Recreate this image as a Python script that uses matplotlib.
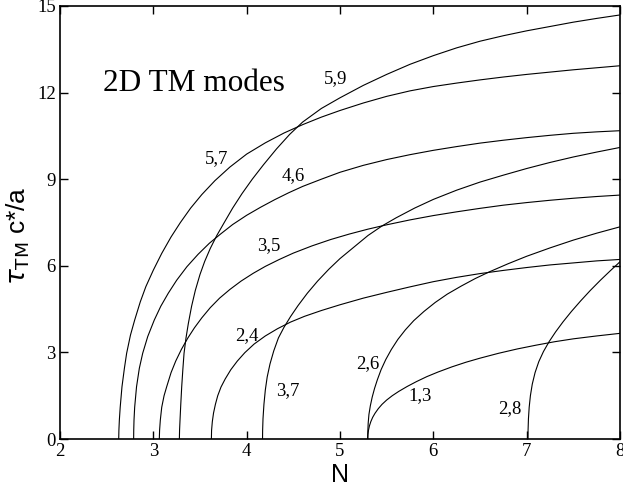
import matplotlib
matplotlib.use("Agg")
import matplotlib.pyplot as plt

# ---- data (N, tau_TM c*/a) ----
n_57 = [2.629, 2.631, 2.636, 2.645, 2.664, 2.69, 2.714, 2.755, 2.80, 2.86, 2.92, 3.0, 3.09, 3.19, 3.29,
        3.40, 3.52, 3.66, 3.82, 4.0, 4.2, 4.4, 4.6, 4.8, 5.0, 5.25, 5.5, 5.75, 6.0, 6.25, 6.5, 6.75,
        7.0, 7.25, 7.5, 7.75, 8.0]
t_57 = [0, 0.3, 0.66, 1.1, 1.81, 2.45, 2.97, 3.6, 4.12, 4.75, 5.28, 5.85, 6.43, 7.0, 7.5,
        8.0, 8.47, 8.95, 9.42, 9.87, 10.26, 10.6, 10.89, 11.15, 11.38, 11.64, 11.87, 12.06, 12.21, 12.33,
        12.44, 12.54, 12.63, 12.71, 12.79, 12.86, 12.93]

n_59 = [3.279, 3.281, 3.286, 3.294, 3.304, 3.316, 3.329, 3.35, 3.375, 3.41, 3.45, 3.50, 3.55, 3.61,
        3.68, 3.76, 3.85, 3.95, 4.06, 4.18, 4.32, 4.46, 4.6, 4.8, 5.0, 5.25, 5.5, 5.75, 6.0, 6.25,
        6.5, 6.75, 7.0, 7.25, 7.5, 7.75, 8.0]
t_59 = [0, 0.3, 0.66, 1.2, 1.81, 2.4, 2.97, 3.5, 4.0, 4.6, 5.15, 5.7, 6.15, 6.6,
        7.05, 7.5, 8.0, 8.5, 9.0, 9.5, 10.05, 10.55, 10.98, 11.45, 11.82, 12.25, 12.63, 12.98, 13.28, 13.55,
        13.78, 13.97, 14.14, 14.29, 14.44, 14.57, 14.69]

n_46 = [2.789, 2.790, 2.793, 2.80, 2.82, 2.85, 2.886, 2.94, 3.01, 3.08, 3.16, 3.25, 3.36, 3.48, 3.6,
        3.72, 3.85, 4.0, 4.15, 4.3, 4.45, 4.6, 4.8, 5.0, 5.25, 5.5, 5.75, 6.0, 6.25, 6.5, 6.75, 7.0,
        7.25, 7.5, 7.75, 8.0]
t_46 = [0, 0.3, 0.66, 1.1, 1.81, 2.45, 2.97, 3.55, 4.12, 4.6, 5.05, 5.5, 5.97, 6.4, 6.78,
        7.1, 7.43, 7.75, 8.03, 8.29, 8.53, 8.75, 9.0, 9.24, 9.48, 9.68, 9.85, 10.0, 10.13, 10.25, 10.35,
        10.44, 10.52, 10.59, 10.64, 10.68]

n_35 = [3.064, 3.067, 3.075, 3.09, 3.115, 3.143, 3.19, 3.24, 3.30, 3.37, 3.44, 3.52, 3.61, 3.71, 3.82,
        3.94, 4.07, 4.2, 4.35, 4.5, 4.7, 4.9, 5.1, 5.3, 5.5, 5.75, 6.0, 6.25, 6.5, 6.75, 7.0, 7.25,
        7.5, 7.75, 8.0]
t_35 = [0, 0.3, 0.66, 1.1, 1.5, 1.81, 2.3, 2.7, 3.1, 3.5, 3.85, 4.2, 4.55, 4.88, 5.18,
        5.47, 5.74, 5.98, 6.22, 6.44, 6.69, 6.91, 7.1, 7.27, 7.42, 7.59, 7.74, 7.87, 7.99, 8.1, 8.19, 8.27,
        8.34, 8.4, 8.45]

n_24 = [3.622, 3.624, 3.632, 3.645, 3.665, 3.69, 3.725, 3.77, 3.83, 3.9, 3.98, 4.08, 4.2, 4.33, 4.47,
        4.62, 4.8, 5.0, 5.25, 5.5, 5.75, 6.0, 6.25, 6.5, 6.75, 7.0, 7.25, 7.5, 7.75, 8.0]
t_24 = [0, 0.3, 0.6, 0.9, 1.2, 1.5, 1.8, 2.08, 2.4, 2.7, 2.99, 3.29, 3.57, 3.82, 4.05,
        4.25, 4.45, 4.65, 4.88, 5.08, 5.27, 5.45, 5.6, 5.73, 5.84, 5.94, 6.03, 6.1, 6.17, 6.22]

n_37 = [4.17, 4.171, 4.175, 4.185, 4.2, 4.22, 4.25, 4.29, 4.34, 4.4, 4.47, 4.55, 4.65, 4.76, 4.88,
        5.0, 5.15, 5.3, 5.45, 5.6, 5.8, 6.0, 6.25, 6.5, 6.75, 7.0, 7.25, 7.5, 7.75, 8.0]
t_37 = [0, 0.3, 0.7, 1.2, 1.7, 2.15, 2.6, 3.05, 3.5, 3.87, 4.24, 4.62, 5.05, 5.47, 5.88,
        6.25, 6.65, 7.05, 7.38, 7.66, 8.0, 8.3, 8.62, 8.9, 9.14, 9.37, 9.58, 9.77, 9.94, 10.1]

n_26 = [5.297, 5.298, 5.302, 5.31, 5.325, 5.345, 5.37, 5.40, 5.44, 5.49, 5.55, 5.62, 5.70, 5.79, 5.9,
        6.02, 6.15, 6.3, 6.45, 6.6, 6.8, 7.0, 7.25, 7.5, 7.75, 8.0]
t_26 = [0, 0.25, 0.55, 0.85, 1.15, 1.45, 1.75, 2.05, 2.4, 2.75, 3.1, 3.45, 3.78, 4.1, 4.42,
        4.73, 5.02, 5.3, 5.56, 5.79, 6.07, 6.33, 6.62, 6.89, 7.13, 7.35]

n_13 = [5.297, 5.299, 5.305, 5.315, 5.33, 5.35, 5.375, 5.41, 5.45, 5.5, 5.56, 5.63, 5.72, 5.82, 5.93,
        6.05, 6.2, 6.35, 6.5, 6.7, 6.9, 7.1, 7.3, 7.5, 7.75, 8.0]
t_13 = [0, 0.15, 0.3, 0.45, 0.6, 0.75, 0.89, 1.05, 1.2, 1.35, 1.5, 1.65, 1.82, 1.99, 2.16,
        2.32, 2.5, 2.66, 2.8, 2.97, 3.12, 3.25, 3.37, 3.47, 3.57, 3.66]

n_28 = [7.014, 7.015, 7.019, 7.027, 7.04, 7.06, 7.09, 7.13, 7.18, 7.24, 7.31, 7.39, 7.48, 7.58, 7.68,
        7.79, 7.9, 8.0]
t_28 = [0, 0.3, 0.7, 1.1, 1.5, 1.9, 2.3, 2.68, 3.03, 3.37, 3.71, 4.06, 4.42, 4.79, 5.14,
        5.5, 5.84, 6.14]

curves = [(n_57, t_57), (n_59, t_59), (n_46, t_46), (n_35, t_35), (n_24, t_24),
          (n_37, t_37), (n_26, t_26), (n_13, t_13), (n_28, t_28)]

mode_labels = ["5,9", "5,7", "4,6", "3,5", "2,4", "3,7", "2,6", "1,3", "2,8"]
label_n = [4.95, 3.68, 4.50, 4.24, 4.00, 4.44, 5.30, 5.86, 6.82]
label_t = [12.49, 9.72, 9.14, 6.69, 3.57, 1.67, 2.60, 1.49, 1.06]

x_ticks = [2, 3, 4, 5, 6, 7, 8]
y_ticks = [0, 3, 6, 9, 12, 15]

SERIF = "Liberation Serif"
SANS = "Liberation Sans"

fig = plt.figure(figsize=(6.23, 4.99), dpi=100)
ax = fig.add_axes([60 / 623, 60 / 499, 560 / 623, 433 / 499])

for n, t in curves:
    ax.plot(n, t, color="black", lw=0.8, solid_joinstyle="round", solid_capstyle="butt")

for lab, x, y in zip(mode_labels, label_n, label_t):
    ax.text(x, y, lab, ha="center", va="center", fontsize=13.5, family=SERIF)

ax.text(3.44, 12.32, "2D TM modes", ha="center", va="center", fontsize=22.5, family=SERIF)

ax.set_xlim(2, 8)
ax.set_ylim(0, 15)
ax.set_xticks(x_ticks)
ax.set_yticks(y_ticks)
ax.set_xticklabels([str(v) for v in x_ticks], family=SERIF, fontsize=13.5)
ax.set_yticklabels([str(v) for v in y_ticks], family=SERIF, fontsize=13.5)
ax.tick_params(direction="in", length=6, width=1, top=True, right=True, pad=3)
for s in ax.spines.values():
    s.set_linewidth(1.2)

ax.set_xlabel("N", family=SANS, fontsize=18)
ax.xaxis.set_label_coords(0.5, -0.055)
ax.set_ylabel(r"$\tau_{\mathrm{TM}}$ c*/a", family=SANS, fontsize=19)
ax.yaxis.set_label_coords(-0.05, 0.47)

fig.savefig("out.png", dpi=100)
